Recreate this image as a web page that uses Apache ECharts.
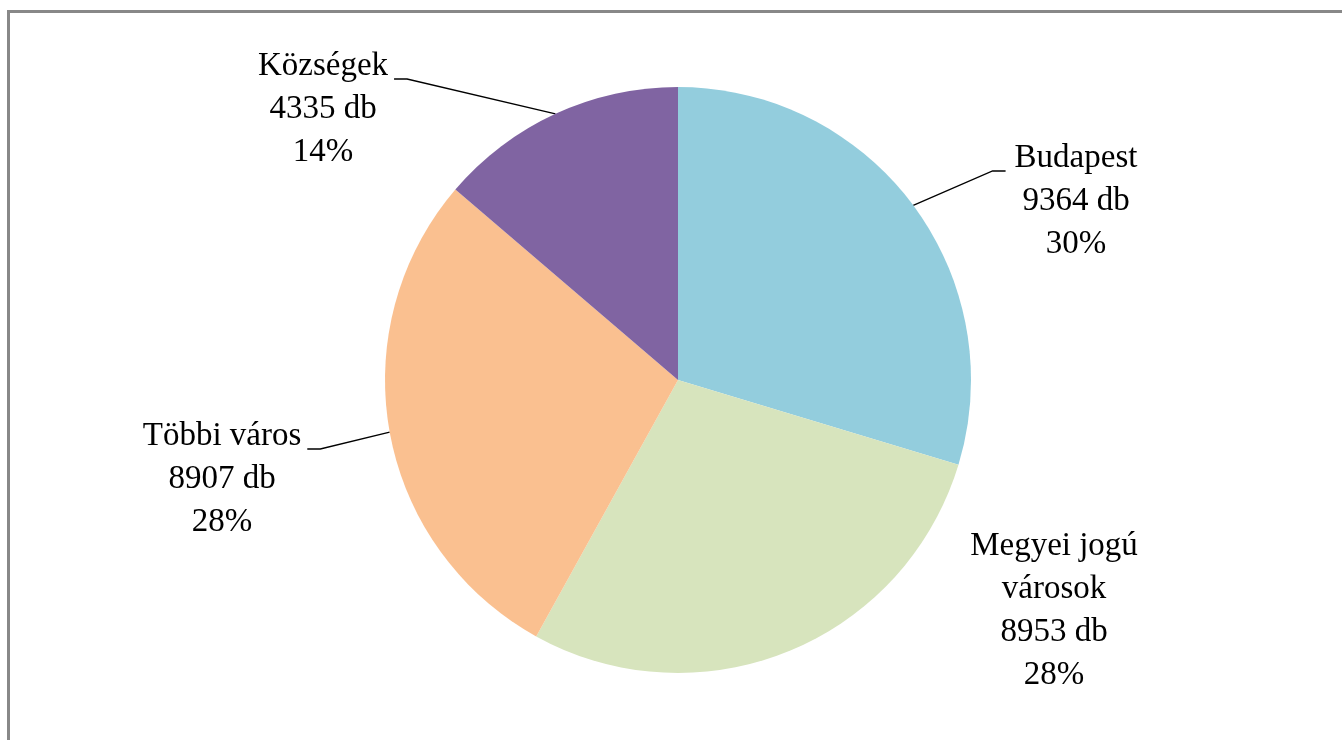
<!DOCTYPE html>
<html>
<head>
<meta charset="utf-8">
<script src="https://cdn.jsdelivr.net/npm/echarts@6/dist/echarts.min.js"></script>
<style>
html,body{margin:0;padding:0;background:#fff;}
#chart{width:1342px;height:740px;}
</style>
</head>
<body>
<div id="chart"></div>
<script>
// Data
const categories = ['Budapest', 'Megyei jogú\nvárosok', 'Többi város', 'Községek'];
const counts = [9364, 8953, 8907, 4335];
const percentLabels = ['30%', '28%', '28%', '14%'];
const colors = ['#93CDDD', '#D7E4BD', '#FAC090', '#8064A2'];

// Label placement: [block centre x, block top y, side (1 right, -1 left, 0 no leader line)]
const labelPlacement = [
  [1076, 137, 1],
  [1054, 525, 0],
  [222, 415, -1],
  [323, 45, -1]
];

const chart = echarts.init(document.getElementById('chart'), null, {renderer: 'canvas'});

const seriesData = categories.map((name, i) => ({
  name: name,
  value: counts[i],
  itemStyle: {color: colors[i]},
  labelLine: {show: labelPlacement[i][2] !== 0}
}));

const option = {
  animation: false,
  backgroundColor: '#ffffff',
  graphic: [{
    type: 'polyline',
    shape: {points: [[8.5, 745], [8.5, 11.5], [1350, 11.5]]},
    style: {stroke: '#888888', lineWidth: 3, fill: null},
    silent: true
  }],
  series: [{
    type: 'pie',
    center: [678, 380],
    radius: 293,
    startAngle: 90,
    clockwise: true,
    avoidLabelOverlap: false,
    itemStyle: {borderWidth: 0},
    emphasis: {disabled: true},
    label: {
      show: true,
      position: 'outside',
      color: '#000000',
      fontFamily: '"Liberation Serif", "Times New Roman", serif',
      fontSize: 33,
      lineHeight: 43,
      formatter: function (p) {
        return p.name + '\n' + counts[p.dataIndex] + ' db\n' + percentLabels[p.dataIndex];
      }
    },
    labelLine: {
      show: true,
      length: 30,
      length2: 13,
      lineStyle: {color: '#000000', width: 1.3}
    },
    labelLayout: function (p) {
      const pl = labelPlacement[p.dataIndex];
      const x = pl[0], y = pl[1], side = pl[2];
      const w = p.labelRect.width;
      const out = {x: x, y: y, align: 'center', verticalAlign: 'top'};
      if (side !== 0 && p.labelLinePoints) {
        const ey = y + 34;
        const ex = side > 0 ? x - w / 2 - 9 : x + w / 2 + 6;
        out.labelLinePoints = [p.labelLinePoints[0], [ex - side * 13, ey], [ex, ey]];
      }
      return out;
    },
    data: seriesData
  }]
};

chart.setOption(option);
</script>
</body>
</html>
